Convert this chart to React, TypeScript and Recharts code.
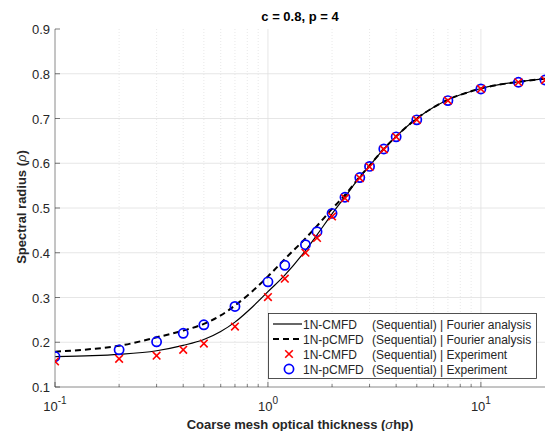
import { ComposedChart, Line, Scatter, XAxis, YAxis, ReferenceLine, Legend } from "recharts";

const FONT = "'Liberation Sans', Arial, Helvetica, sans-serif";
const INK = "#262626";

// x ticks (log scale)
const xMajor = [0.1, 1, 10];
const xMinor = [0.2, 0.3, 0.4, 0.5, 0.6, 0.7, 0.8, 0.9, 2, 3, 4, 5, 6, 7, 8, 9];
const yTicks = [0.1, 0.2, 0.3, 0.4, 0.5, 0.6, 0.7, 0.8, 0.9];
const expLabels: Record<number, string> = { 0.1: "-1", 1: "0", 10: "1" };

// Fourier analysis curves
const fourierX = [0.1, 0.15, 0.2, 0.3, 0.4, 0.5, 0.6, 0.7, 0.85, 1, 1.2, 1.5, 1.7, 2, 2.3, 2.7, 3, 3.5, 4, 5, 6, 7, 8.5, 10, 12, 15, 20];
const cmfdFourier = [0.168, 0.17, 0.173, 0.181, 0.193, 0.206, 0.224, 0.245, 0.28, 0.313, 0.35, 0.405, 0.44, 0.487, 0.525, 0.569, 0.594, 0.632, 0.66, 0.7, 0.725, 0.742, 0.757, 0.767, 0.775, 0.782, 0.789];
const pcmfdFourier = [0.179, 0.185, 0.192, 0.211, 0.226, 0.241, 0.26, 0.282, 0.315, 0.347, 0.386, 0.432, 0.46, 0.498, 0.529, 0.57, 0.595, 0.632, 0.66, 0.7, 0.725, 0.742, 0.757, 0.767, 0.775, 0.782, 0.789];

// experiments
const expX = [0.1, 0.2, 0.3, 0.4, 0.5, 0.7, 1, 1.2, 1.5, 1.7, 2, 2.3, 2.7, 3, 3.5, 4, 5, 7, 10, 15, 20];
const cmfdExp = [0.157, 0.163, 0.17, 0.183, 0.197, 0.235, 0.301, 0.342, 0.4, 0.433, 0.481, 0.522, 0.567, 0.592, 0.631, 0.659, 0.697, 0.74, 0.766, 0.781, 0.786];
const pcmfdExp = [0.168, 0.183, 0.201, 0.22, 0.239, 0.28, 0.335, 0.372, 0.418, 0.447, 0.488, 0.524, 0.568, 0.593, 0.632, 0.659, 0.697, 0.74, 0.766, 0.781, 0.786];

const cmfdLine = fourierX.map((x, i) => ({ x, y: cmfdFourier[i] }));
const pcmfdLine = fourierX.map((x, i) => ({ x, y: pcmfdFourier[i] }));
const cmfdPts = expX.map((x, i) => ({ x, y: cmfdExp[i] }));
const pcmfdPts = expX.map((x, i) => ({ x, y: pcmfdExp[i] }));

const allXTicks = [...xMajor, ...xMinor].sort((a, b) => a - b);

function BottomTick(props: any) {
  const { x, y, payload } = props;
  const major = xMajor.includes(payload.value);
  return (
    <g>
      <line x1={x} x2={x} y1={y} y2={y - (major ? 5 : 3)} stroke={INK} strokeWidth={0.6} />
      {major && (
        <text x={x} y={y + 24} textAnchor="middle" fontFamily={FONT} fontSize={13} fill={INK}>
          10<tspan dy={-7} fontSize={10}>{expLabels[payload.value]}</tspan>
        </text>
      )}
    </g>
  );
}

function TopTick(props: any) {
  const { x, y, payload } = props;
  const major = xMajor.includes(payload.value);
  return <line x1={x} x2={x} y1={y} y2={y + (major ? 5 : 3)} stroke={INK} strokeWidth={0.6} />;
}

function LeftTick(props: any) {
  const { x, y, payload } = props;
  return (
    <g>
      <line x1={x} x2={x + 5} y1={y} y2={y} stroke={INK} strokeWidth={0.6} />
      <text x={x - 5} y={y + 5} textAnchor="end" fontFamily={FONT} fontSize={13} fill={INK}>
        {payload.value.toFixed(1)}
      </text>
    </g>
  );
}

function RightTick(props: any) {
  const { x, y } = props;
  return <line x1={x} x2={x - 5} y1={y} y2={y} stroke={INK} strokeWidth={0.6} />;
}

function Cross(props: any) {
  const { cx, cy } = props;
  const s = 3.8;
  return (
    <g stroke="#ff0000" strokeWidth={1.6}>
      <line x1={cx - s} y1={cy - s} x2={cx + s} y2={cy + s} />
      <line x1={cx - s} y1={cy + s} x2={cx + s} y2={cy - s} />
    </g>
  );
}

function Ring(props: any) {
  const { cx, cy } = props;
  return <circle cx={cx} cy={cy} r={4.6} fill="none" stroke="#0000ff" strokeWidth={1.7} />;
}

const legendRows = [
  { kind: "solid", name: "1N-CMFD", desc: "(Sequential) | Fourier analysis" },
  { kind: "dashed", name: "1N-pCMFD", desc: "(Sequential) | Fourier analysis" },
  { kind: "cross", name: "1N-CMFD", desc: "(Sequential) | Experiment" },
  { kind: "ring", name: "1N-pCMFD", desc: "(Sequential) | Experiment" },
];

function LegendBox() {
  return (
    <svg width={270} height={67}>
      <rect x={0.5} y={0.5} width={268} height={65} fill="#fff" stroke={INK} strokeWidth={0.8} />
      {legendRows.map((r, i) => {
        const cy = 11 + i * 15;
        return (
          <g key={i}>
            {r.kind === "solid" && <line x1={5} x2={34} y1={cy} y2={cy} stroke="#000" strokeWidth={1.2} />}
            {r.kind === "dashed" && <line x1={5} x2={34} y1={cy} y2={cy} stroke="#000" strokeWidth={2} strokeDasharray="6 4" />}
            {r.kind === "cross" && <Cross cx={21} cy={cy} />}
            {r.kind === "ring" && <Ring cx={21} cy={cy} />}
            <text x={35} y={cy + 4.5} fontFamily={FONT} fontSize={12} fill={INK}>{r.name}</text>
            <text x={104} y={cy + 4.5} fontFamily={FONT} fontSize={12} fill={INK}>{r.desc}</text>
          </g>
        );
      })}
    </svg>
  );
}

export default function App() {
  return (
    <div style={{ position: "absolute", left: 0, top: 0, width: 545, height: 431, background: "#fff" }}>
      <ComposedChart width={545} height={431} margin={{ top: 29, right: 0, bottom: 0, left: 0 }}>
        <XAxis
          dataKey="x"
          type="number"
          scale="log"
          domain={[0.1, 20]}
          allowDataOverflow
          ticks={allXTicks}
          interval={0}
          height={44}
          tickSize={0}
          tickMargin={0}
          tickLine={false}
          tick={<BottomTick />}
          axisLine={{ stroke: "#8a8a8a" }}
        />
        <XAxis
          xAxisId="top"
          orientation="top"
          type="number"
          scale="log"
          domain={[0.1, 20]}
          allowDataOverflow
          ticks={allXTicks}
          interval={0}
          height={0}
          tickSize={0}
          tickMargin={0}
          tickLine={false}
          tick={<TopTick />}
          axisLine={{ stroke: "#8a8a8a" }}
        />
        <YAxis
          dataKey="y"
          type="number"
          domain={[0.1, 0.9]}
          allowDataOverflow
          ticks={yTicks}
          interval={0}
          width={55}
          tickSize={0}
          tickMargin={0}
          tickLine={false}
          tick={<LeftTick />}
          axisLine={{ stroke: "#8a8a8a" }}
        />
        <YAxis
          yAxisId="right"
          orientation="right"
          type="number"
          domain={[0.1, 0.9]}
          allowDataOverflow
          ticks={yTicks}
          interval={0}
          width={0}
          tickSize={0}
          tickMargin={0}
          tickLine={false}
          tick={<RightTick />}
          axisLine={{ stroke: "#8a8a8a" }}
        />
        {xMinor.map((v) => (
          <ReferenceLine key={"mx" + v} x={v} stroke="#e2e2e2" strokeWidth={0.8} strokeDasharray="1 2" />
        ))}
        {xMajor.slice(1).map((v) => (
          <ReferenceLine key={"Mx" + v} x={v} stroke="#e0e0e0" strokeWidth={0.8} />
        ))}
        {yTicks.slice(1, -1).map((v) => (
          <ReferenceLine key={"My" + v} y={v} stroke="#e0e0e0" strokeWidth={0.8} />
        ))}
        <Line data={cmfdLine} dataKey="y" type="monotone" stroke="#000" strokeWidth={1.2} dot={false} isAnimationActive={false} />
        <Line data={pcmfdLine} dataKey="y" type="monotone" stroke="#000" strokeWidth={2} strokeDasharray="6 4" dot={false} isAnimationActive={false} />
        <Scatter data={pcmfdPts} dataKey="y" shape={<Ring />} isAnimationActive={false} />
        <Scatter data={cmfdPts} dataKey="y" shape={<Cross />} isAnimationActive={false} />
        <Legend
          layout="vertical"
          align="center"
          verticalAlign="middle"
          content={() => <LegendBox />}
          wrapperStyle={{ left: 268, top: 313, width: 270, height: 67 }}
        />
        <text x={300} y={21} textAnchor="middle" fontFamily={FONT} fontSize={13} fontWeight="bold" fill="#000">
          c = 0.8, p = 4
        </text>
        <text x={300} y={429} textAnchor="middle" fontFamily={FONT} fontSize={13} fontWeight="bold" fill={INK}>
          Coarse mesh optical thickness (<tspan fontStyle="italic" fontWeight="normal">σ</tspan>hp)
        </text>
        <text
          x={0}
          y={0}
          transform="translate(26,207) rotate(-90)"
          textAnchor="middle"
          fontFamily={FONT}
          fontSize={13}
          fontWeight="bold"
          fill={INK}
        >
          Spectral radius (<tspan fontStyle="italic" fontWeight="normal">ρ</tspan>)
        </text>
      </ComposedChart>
    </div>
  );
}
